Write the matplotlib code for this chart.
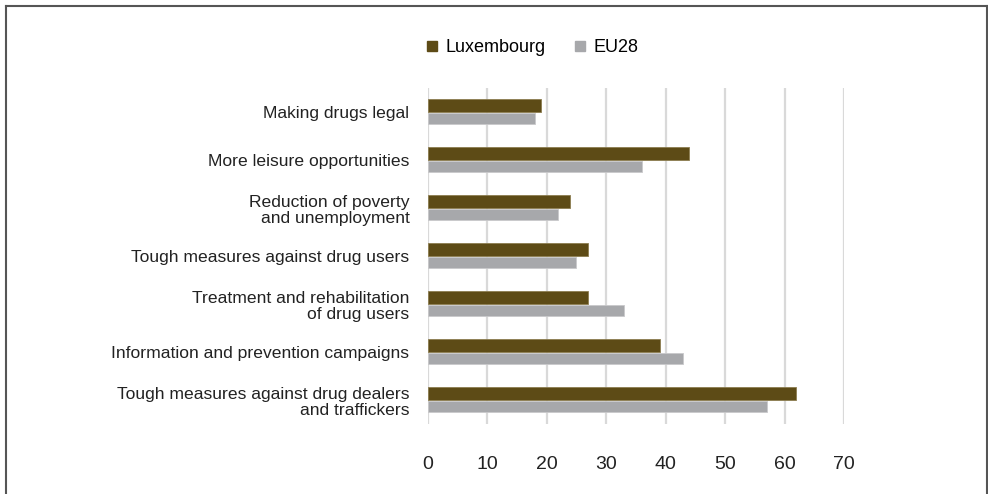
import matplotlib
matplotlib.use("Agg")
import matplotlib.pyplot as plt
import numpy as np
from matplotlib.lines import Line2D

plt.rcParams['font.family'] = ['Liberation Sans', 'DejaVu Sans']

categories = [
    "Making drugs legal",
    "More leisure opportunities",
    "Reduction of poverty\nand unemployment",
    "Tough measures against drug users",
    "Treatment and rehabilitation\nof drug users",
    "Information and prevention campaigns",
    "Tough measures against drug dealers\nand traffickers",
]
luxembourg = [19, 44, 24, 27, 27, 39, 62]
eu28 = [18, 36, 22, 25, 33, 43, 57]
xticks = [0, 10, 20, 30, 40, 50, 60, 70]

lux_color = "#5d4b16"
eu_color = "#a7a8ab"

fig = plt.figure(figsize=(9.88, 4.94), dpi=100)
ax = fig.add_axes([427.5 / 988, 70 / 494, (844 - 427.5) / 988, 336 / 494])

y = np.arange(len(categories))
h = 0.28
ax.barh(y - h / 2, luxembourg, height=h, color=lux_color, edgecolor="#8c7d50",
        linewidth=0.6, zorder=3, label="Luxembourg")
ax.barh(y + h / 2, eu28, height=h * 0.82, color=eu_color, edgecolor="#c9c9cb",
        linewidth=0.6, zorder=3, label="EU28")

ax.set_xlim(0, 70)
ax.set_ylim(6.5, -0.5)
ax.set_xticks(xticks)
ax.set_xticklabels([str(t) for t in xticks], fontsize=14, color="#222222")
ax.set_yticks(y)
ax.set_yticklabels(categories, fontsize=12.6, color="#222222", linespacing=1.1)
ax.tick_params(axis="x", length=0, pad=23)
ax.tick_params(axis="y", length=0, pad=13)
for t in ax.get_yticklabels():
    t.set_horizontalalignment("right")
    t.set_multialignment("right")

ax.grid(axis="x", color="#d9d9d9", linewidth=1.6, zorder=0)
ax.set_axisbelow(True)
for s in ax.spines.values():
    s.set_visible(False)

handles = [
    Line2D([], [], marker="s", linestyle="none", markersize=7,
           markerfacecolor=lux_color, markeredgecolor=lux_color),
    Line2D([], [], marker="s", linestyle="none", markersize=7,
           markerfacecolor=eu_color, markeredgecolor=eu_color),
]
fig.legend(handles, ["Luxembourg", "EU28"], loc="center",
           bbox_to_anchor=(531 / 988, 1 - 48 / 494), ncol=2, frameon=False,
           fontsize=13, handletextpad=0.25, columnspacing=1.4, handlelength=1.0)

# frame border (left, top, right)
border_color = "#555555"
fig.add_artist(Line2D([5.5 / 988, 5.5 / 988], [0, 1 - 6.5 / 494],
                      transform=fig.transFigure, color=border_color, linewidth=1.5))
fig.add_artist(Line2D([5.5 / 988, 986.8 / 988], [1 - 6.5 / 494, 1 - 6.5 / 494],
                      transform=fig.transFigure, color=border_color, linewidth=1.5))
fig.add_artist(Line2D([986.8 / 988, 986.8 / 988], [0, 1 - 6.5 / 494],
                      transform=fig.transFigure, color=border_color, linewidth=1.5))

fig.savefig("out.png", dpi=100)
